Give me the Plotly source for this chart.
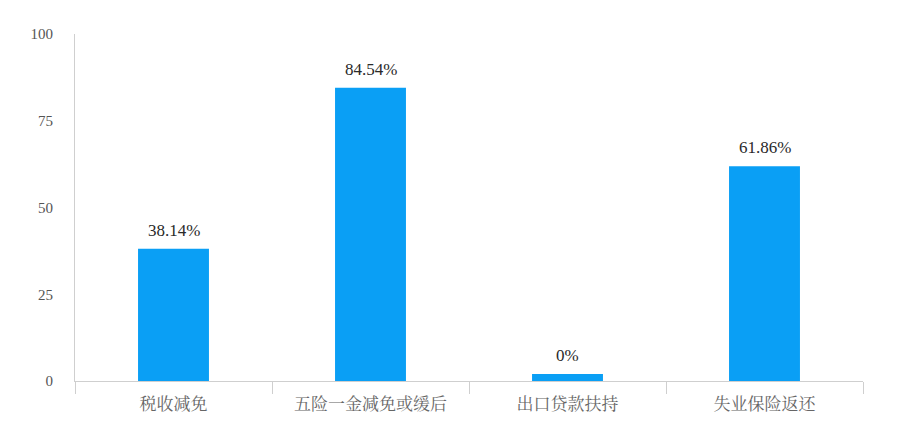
import plotly.graph_objects as go

categories = ["税收减免", "五险一金减免或缓后", "出口贷款扶持", "失业保险返还"]
bar_values = [38.14, 84.54, 2, 61.86]
bar_labels = ["38.14%", "84.54%", "0%", "61.86%"]
y_ticks = [0, 25, 50, 75, 100]

fig = go.Figure(go.Bar(
    x=categories,
    y=bar_values,
    marker=dict(color="#0a9ff5", line=dict(width=0)),
    width=0.36,
    hoverinfo="x+y",
))

for cat, val, lab in zip(categories, bar_values, bar_labels):
    fig.add_annotation(
        x=cat, y=val, text=lab, showarrow=False,
        yanchor="bottom", yshift=7,
        font=dict(family="Liberation Serif", size=17, color="#2a2a2a"),
    )

fig.update_layout(
    width=915, height=442,
    margin=dict(l=67, r=60, t=26, b=69),
    plot_bgcolor="white", paper_bgcolor="white",
    showlegend=False,
)
fig.update_xaxes(
    showline=True, linecolor="#cfcfcf", linewidth=1,
    ticks="outside", tickson="boundaries", ticklen=12, tickcolor="#cfcfcf",
    ticklabelstandoff=8,
    tickfont=dict(family="Liberation Serif, Noto Serif CJK SC, Noto Sans CJK SC", size=17, color="#666666"),
    showgrid=False,
)
fig.update_yaxes(
    range=[0, 100], tickvals=y_ticks,
    showline=True, linecolor="#cfcfcf", linewidth=1,
    showgrid=False, zeroline=False, ticks="",
    ticklabelstandoff=18,
    tickfont=dict(family="Liberation Serif", size=15, color="#555555"),
)

fig.write_html("out.html")
